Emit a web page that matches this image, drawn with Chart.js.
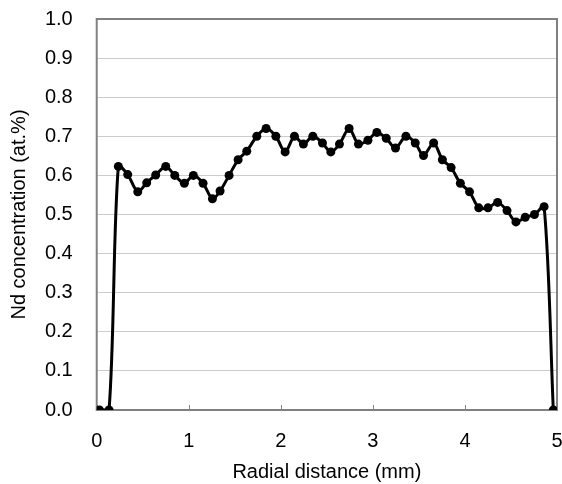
<!DOCTYPE html>
<html>
<head>
<meta charset="utf-8">
<script src="https://cdn.jsdelivr.net/npm/chart.js@4.4.1/dist/chart.umd.min.js"></script>
<style>
html,body{margin:0;padding:0;background:#fff;}
#wrap{width:562px;height:484px;}
</style>
</head>
<body>
<div id="wrap"><canvas id="c" width="562" height="484"></canvas></div>
<script>
const radialDistance = [0.03,0.134,0.235,0.337,0.446,0.543,0.641,0.75,0.848,0.952,1.05,1.155,1.257,1.34,1.438,1.536,1.63,1.739,1.84,1.946,2.047,2.148,2.245,2.348,2.452,2.543,2.637,2.742,2.843,2.946,3.043,3.145,3.246,3.359,3.46,3.55,3.66,3.755,3.85,3.95,4.05,4.15,4.25,4.355,4.457,4.554,4.655,4.755,4.86,4.96];
const ndConcentration = [0,0,0.623,0.602,0.558,0.581,0.601,0.623,0.6,0.58,0.6,0.58,0.54,0.56,0.6,0.64,0.662,0.7,0.72,0.70,0.66,0.70,0.68,0.70,0.683,0.66,0.68,0.72,0.68,0.69,0.71,0.695,0.67,0.70,0.683,0.651,0.683,0.64,0.62,0.58,0.558,0.517,0.517,0.531,0.51,0.481,0.493,0.50,0.52,0];
const xTicks = [0,1,2,3,4,5];
const yTicks = [0,0.1,0.2,0.3,0.4,0.5,0.6,0.7,0.8,0.9,1.0];
const xTitle = 'Radial distance (mm)';
const yTitle = 'Nd concentration (at.%)';

const points = radialDistance.map((x, i) => ({x: x, y: ndConcentration[i]}));
const FONT = "'Liberation Sans', Arial, sans-serif";

const boxPlugin = {
  id: 'box',
  beforeDatasetsDraw(chart) {
    const {ctx, chartArea: a, scales} = chart;
    ctx.save();
    ctx.strokeStyle = '#808080';
    ctx.lineWidth = 2;
    ctx.strokeRect(a.left, a.top, a.right - a.left, a.bottom - a.top);
    ctx.lineWidth = 1;
    xTicks.forEach(v => {
      const px = Math.round(scales.x.getPixelForValue(v)) + 0.5;
      ctx.beginPath();
      ctx.moveTo(px, a.bottom);
      ctx.lineTo(px, a.bottom - 5);
      ctx.stroke();
    });
    ctx.restore();
  }
};

new Chart(document.getElementById('c'), {
  type: 'line',
  data: {
    datasets: [{
      data: points,
      borderColor: '#000',
      backgroundColor: '#000',
      borderWidth: 3,
      pointRadius: 4.5,
      pointBackgroundColor: '#000',
      pointBorderColor: '#000',
      pointBorderWidth: 0,
      tension: 0.3,
      fill: false
    }]
  },
  options: {
    responsive: false,
    animation: false,
    layout: {padding: {top: 19, right: 5, left: 0, bottom: 0}},
    plugins: {legend: {display: false}, tooltip: {enabled: false}},
    scales: {
      x: {
        type: 'linear',
        min: 0, max: 5,
        afterBuildTicks(s) { s.ticks = xTicks.map(v => ({value: v})); },
        afterFit(s) { s.height = 74; s.paddingLeft = 0; s.paddingRight = 0; },
        grid: {display: true, drawOnChartArea: false, drawTicks: false},
        border: {display: false},
        ticks: {
          color: '#000',
          font: {family: FONT, size: 20},
          padding: 19,
          maxRotation: 0,
          autoSkip: false,
          callback: v => String(v)
        },
        title: {
          display: true,
          text: xTitle,
          color: '#000',
          font: {family: FONT, size: 20},
          padding: {top: 2, bottom: 0}
        }
      },
      y: {
        type: 'linear',
        min: 0, max: 1,
        afterBuildTicks(s) { s.ticks = yTicks.map(v => ({value: v})); },
        afterFit(s) { s.width = 96.7; s.paddingTop = 0; s.paddingBottom = 0; },
        grid: {color: '#cccccc', lineWidth: 1, drawTicks: false},
        border: {display: false},
        ticks: {
          color: '#000',
          font: {family: FONT, size: 20},
          padding: 24,
          autoSkip: false,
          callback: v => Number(v).toFixed(1)
        },
        title: {
          display: true,
          text: yTitle,
          color: '#000',
          font: {family: FONT, size: 20},
          padding: {top: 7, bottom: 0}
        }
      }
    }
  },
  plugins: [boxPlugin]
});
</script>
</body>
</html>
